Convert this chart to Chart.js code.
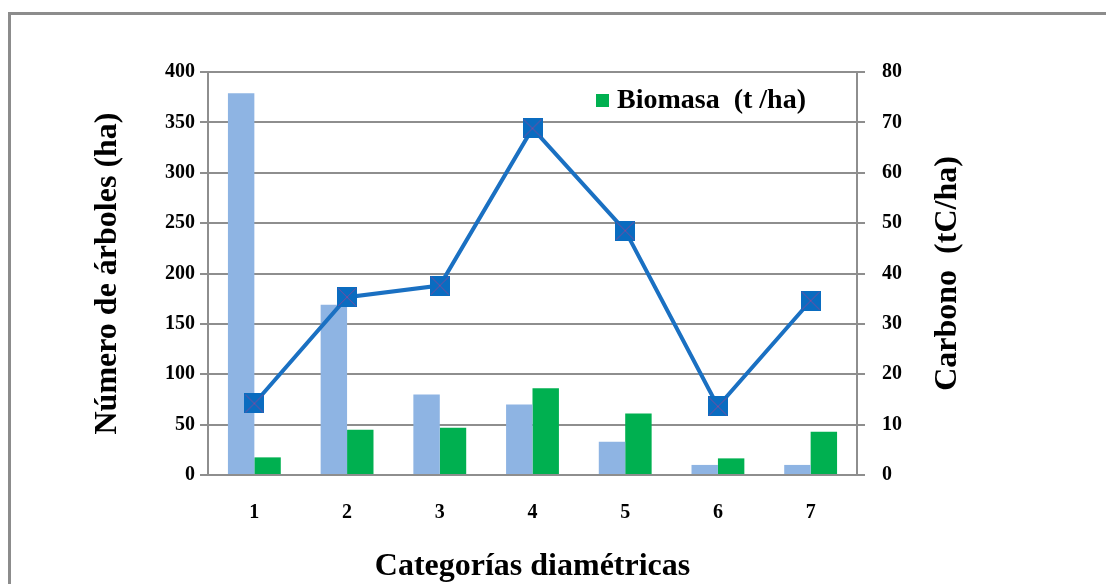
<!DOCTYPE html>
<html>
<head>
<meta charset="utf-8">
<script src="https://cdn.jsdelivr.net/npm/chart.js@4"></script>
<style>
  body { margin: 0; background: #fff; overflow: hidden; }
  #marco { position: absolute; left: 8px; top: 12px; width: 1200px; height: 700px; border-left: 3px solid #8c8c8c; border-top: 3px solid #8c8c8c; }
  #plot1 { position: absolute; left: 0; top: 0; }
</style>
</head>
<body>
<div id="marco"></div>
<canvas id="plot1" width="1106" height="584"></canvas>
<script>
// Datos
let categorias = ['1', '2', '3', '4', '5', '6', '7'];
let numeroArboles = [379, 169, 80, 70, 33, 10, 10];
let biomasa = [17.5, 45, 47, 86, 61, 16.5, 43];
let carbono = [14.2, 35.3, 37.6, 68.8, 48.5, 13.6, 34.6];
let ticksIzq = [0, 50, 100, 150, 200, 250, 300, 350, 400];
let ticksDer = [0, 10, 20, 30, 40, 50, 60, 70, 80];

let fuente = "'Liberation Serif', 'Times New Roman', serif";
let gris = '#8e8e8e';

// marcador cuadrado con una X
let crearMarcador = () => {
  let c = document.createElement('canvas');
  c.width = 20; c.height = 20;
  let ctx = c.getContext('2d');
  ctx.fillStyle = '#0a6cc0';
  ctx.fillRect(0, 0, 20, 20);
  ctx.strokeStyle = '#7a4a9e';
  ctx.lineWidth = 1;
  ctx.beginPath();
  ctx.moveTo(1, 1); ctx.lineTo(19, 19);
  ctx.moveTo(19, 1); ctx.lineTo(1, 19);
  ctx.stroke();
  return c;
}

// titulo del eje derecho (de abajo hacia arriba) y leyenda dentro del area
let extras = {
  id: 'extras',
  afterDraw: (chart) => {
    let ctx = chart.ctx;
    let area = chart.chartArea;
    ctx.save();
    ctx.translate(948, (area.top + area.bottom) / 2);
    ctx.rotate(-Math.PI / 2);
    ctx.font = 'bold 32px ' + fuente;
    ctx.fillStyle = '#000';
    ctx.textAlign = 'center';
    ctx.textBaseline = 'middle';
    ctx.fillText('Carbono  (tC/ha)', 0, 0);
    ctx.restore();

    // leyenda: solo la serie de biomasa
    let ds = chart.data.datasets[1];
    ctx.save();
    ctx.fillStyle = ds.backgroundColor;
    ctx.fillRect(596, 94, 13, 13);
    ctx.font = 'bold 28px ' + fuente;
    ctx.fillStyle = '#000';
    ctx.textAlign = 'left';
    ctx.textBaseline = 'middle';
    ctx.fillText(ds.label, 617, 101);
    ctx.restore();
  }
}

let plotRef = document.getElementById('plot1');
let marcador = crearMarcador();

let config = {
  type: 'bar',
  data: {
    labels: categorias,
    datasets: [
      {
        label: 'Número de árboles',
        data: numeroArboles,
        backgroundColor: '#8eb4e3',
        yAxisID: 'y',
        order: 1
      },
      {
        label: 'Biomasa  (t /ha)',
        data: biomasa,
        backgroundColor: '#00b050',
        yAxisID: 'y',
        order: 1
      },
      {
        type: 'line',
        label: 'Carbono',
        data: carbono,
        borderColor: '#1a70c2',
        borderWidth: 4,
        pointStyle: marcador,
        pointRadius: 10,
        tension: 0,
        yAxisID: 'y1',
        order: 0
      }
    ]
  },
  options: {
    responsive: false,
    animation: false,
    layout: { padding: { top: 72, left: 0, right: 0, bottom: 0 } },
    datasets: { bar: { categoryPercentage: 0.57, barPercentage: 1 } },
    plugins: {
      tooltip: { enabled: false },
      legend: { display: false }
    },
    scales: {
      x: {
        afterFit: (scale) => { scale.height = 109; },
        grid: { drawOnChartArea: false, drawTicks: false },
        border: { display: true, color: gris, width: 2 },
        ticks: { color: '#000', padding: 26, font: { family: fuente, size: 20, weight: 'bold' } },
        title: {
          display: true,
          text: 'Categorías diamétricas',
          color: '#000',
          padding: { top: 0, bottom: 1 },
          font: { family: fuente, size: 32, weight: 'bold', lineHeight: 1 }
        }
      },
      y: {
        position: 'left',
        min: 0,
        max: 400,
        afterFit: (scale) => { scale.width = 208; },
        afterBuildTicks: (scale) => { scale.ticks = ticksIzq.map(v => ({ value: v })); },
        grid: { color: gris, lineWidth: 2, tickLength: 8 },
        border: { display: true, color: gris, width: 2 },
        ticks: { color: '#000', padding: 5, font: { family: fuente, size: 20, weight: 'bold' } },
        title: {
          display: true,
          text: 'Número de árboles (ha)',
          color: '#000',
          padding: { top: 92, bottom: 0 },
          font: { family: fuente, size: 32, weight: 'bold', lineHeight: 1 }
        }
      },
      y1: {
        position: 'right',
        min: 0,
        max: 80,
        afterFit: (scale) => { scale.width = 249; },
        afterBuildTicks: (scale) => { scale.ticks = ticksDer.map(v => ({ value: v })); },
        grid: { drawOnChartArea: false, color: gris, lineWidth: 2, tickLength: 8 },
        border: { display: true, color: gris, width: 2 },
        ticks: { color: '#000', padding: 17, font: { family: fuente, size: 20, weight: 'bold' } }
      }
    }
  },
  plugins: [extras]
};

let chart1 = new Chart(plotRef, config);
</script>
</body>
</html>
